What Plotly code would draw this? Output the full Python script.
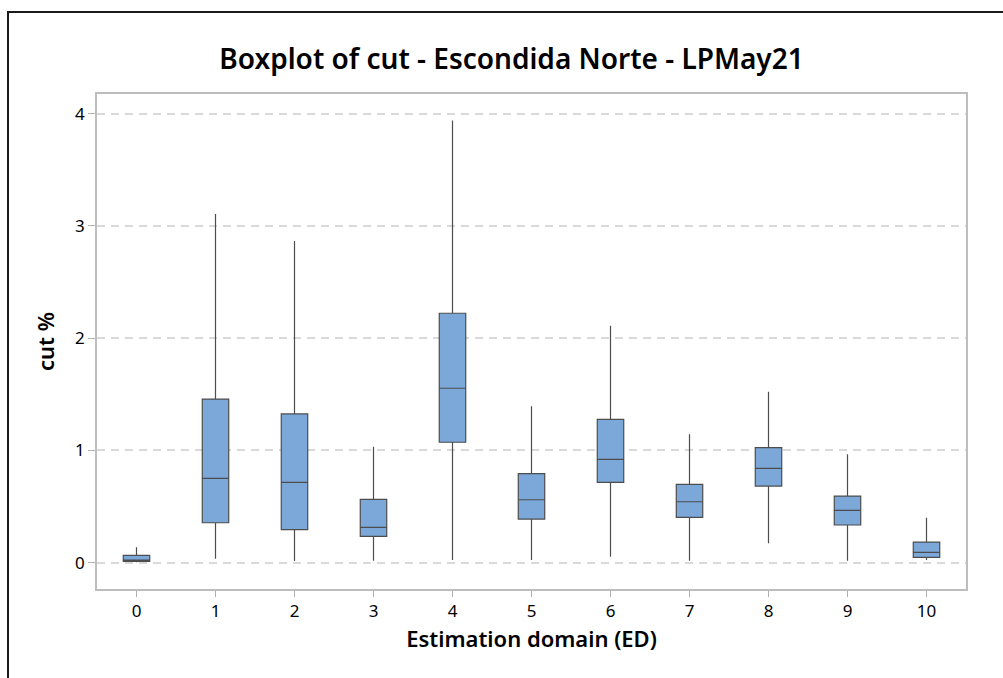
import plotly.graph_objects as go

# Estimation domains and box statistics of cut %
domains = ["0", "1", "2", "3", "4", "5", "6", "7", "8", "9", "10"]
lower_whisker = [0.005, 0.036, 0.015, 0.018, 0.024, 0.024, 0.053, 0.018, 0.173, 0.018, 0.024]
q1 = [0.012, 0.356, 0.294, 0.235, 1.073, 0.389, 0.716, 0.404, 0.683, 0.336, 0.048]
median = [0.024, 0.752, 0.716, 0.315, 1.554, 0.561, 0.921, 0.543, 0.841, 0.467, 0.093]
q3 = [0.066, 1.458, 1.325, 0.565, 2.222, 0.793, 1.277, 0.698, 1.025, 0.594, 0.184]
upper_whisker = [0.137, 3.106, 2.865, 1.033, 3.938, 1.393, 2.111, 1.144, 1.523, 0.966, 0.401]

FONT = "Noto Sans"

fig = go.Figure()
fig.add_trace(go.Box(
    x=domains,
    q1=q1,
    median=median,
    q3=q3,
    lowerfence=lower_whisker,
    upperfence=upper_whisker,
    fillcolor="#7ba7d9",
    line=dict(color="#4d4d4d", width=1.2),
    whiskerwidth=0,
    width=0.335,
    boxpoints=False,
    showlegend=False,
    hoverinfo="skip",
))

fig.update_layout(
    width=1003,
    height=678,
    margin=dict(l=97, r=37, t=94, b=89),
    paper_bgcolor="white",
    plot_bgcolor="white",
    font=dict(family=FONT, color="black"),
    title=dict(
        text="Boxplot of cut - Escondida Norte - LPMay21",
        x=0.51, xanchor="center",
        y=0.912, yanchor="middle",
        font=dict(family=FONT, size=28, color="black", weight=600),
    ),
    xaxis=dict(
        type="category",
        range=[-0.5, 10.5],
        title=dict(text="Estimation domain (ED)",
                   font=dict(family=FONT, size=22, weight=600), standoff=10),
        tickfont=dict(family=FONT, size=17),
        ticks="outside", ticklen=6, tickcolor="#b0b0b0", tickwidth=1,
        showline=True, linecolor="#bdbdbd", linewidth=1.5, mirror=True,
        showgrid=False,
    ),
    yaxis=dict(
        range=[-0.234, 4.175],
        tickvals=[0, 1, 2, 3, 4],
        title=dict(text="cut %", font=dict(family=FONT, size=22, weight=600), standoff=14),
        tickfont=dict(family=FONT, size=17),
        ticks="outside", ticklen=7, tickcolor="#b0b0b0", tickwidth=1,
        showline=True, linecolor="#bdbdbd", linewidth=1.5, mirror=True,
        showgrid=True, gridcolor="#d9d9d9", gridwidth=2, griddash="8px,6px",
        zeroline=False,
    ),
    shapes=[dict(
        type="rect", xref="paper", yref="paper",
        x0=-0.1024, x1=1.3, y0=-0.5, y1=1.1657,
        line=dict(color="#1a1a1a", width=2),
        layer="below",
    )],
)

fig.write_html("out.html")
